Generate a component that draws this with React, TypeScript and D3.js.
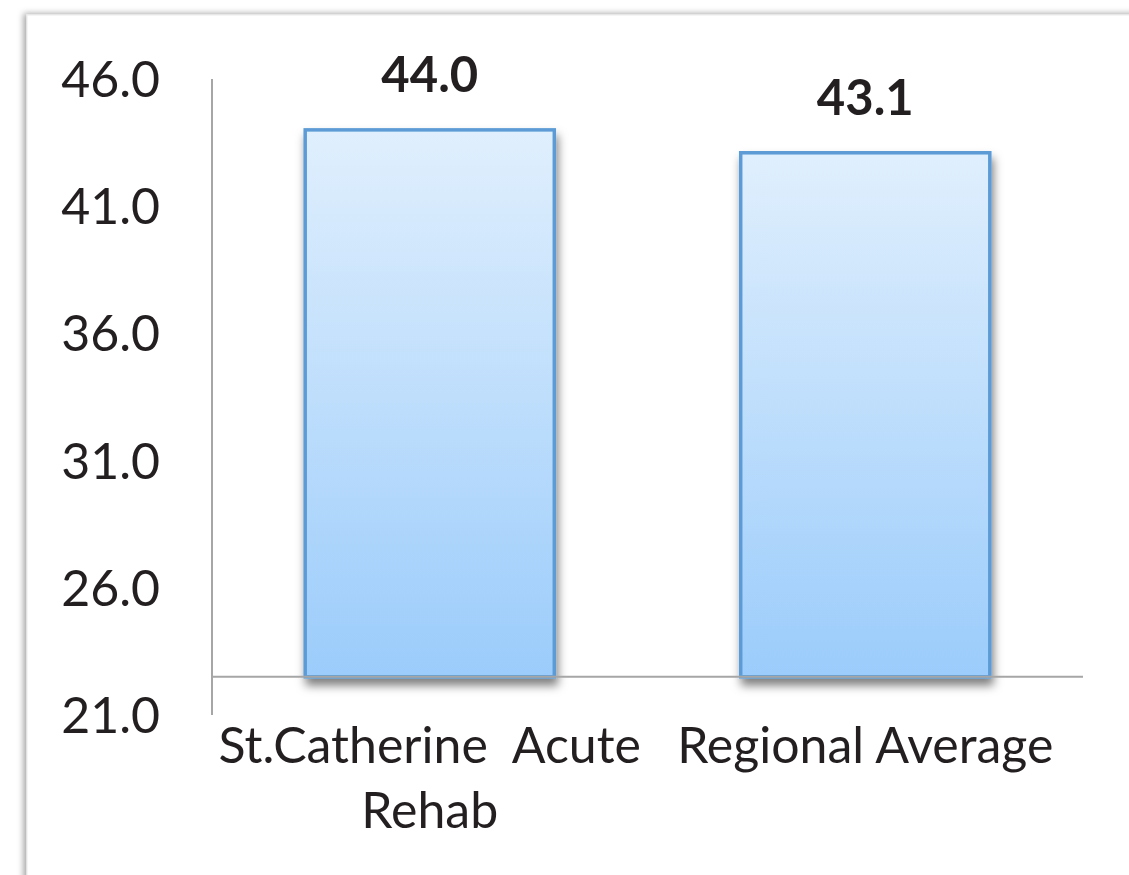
import * as d3 from "d3";

const categories = ["St.Catherine  Acute Rehab", "Regional Average"];
const categoryLines = [["St.Catherine  Acute", "Rehab"], ["Regional Average"]];
const values = [44.0, 43.1];
const tickValues = [21, 26, 31, 36, 41, 46];
const AXIS_CROSS = 22.5; // horizontal axis crosses the value axis here

const WIDTH = 1129;
const HEIGHT = 875;
const PLOT = { left: 212, right: 1083, top: 79, bottom: 715 };
const FONT = "Lato, 'Open Sans', sans-serif";
const TEXT = "#231f20";

export default function App() {
  const yScale = d3.scaleLinear().domain([21, 46]).range([PLOT.bottom, PLOT.top]);
  const xScale = d3
    .scaleBand<string>()
    .domain(categories)
    .range([PLOT.left, PLOT.right])
    .paddingInner(0.428)
    .paddingOuter(0.214);

  const base = yScale(AXIS_CROSS);

  return (
    <svg
      width={WIDTH}
      height={HEIGHT}
      style={{ position: "fixed", left: 0, top: 0, background: "#fff" }}
    >
      <defs>
        <linearGradient id="barFill" x1="0" y1="0" x2="0" y2="1">
          <stop offset="0%" stopColor="#e0effd" />
          <stop offset="100%" stopColor="#9bccfb" />
        </linearGradient>
        <filter id="barShadow" x="-10%" y="-10%" width="130%" height="130%">
          <feDropShadow dx="2" dy="7" stdDeviation="5" floodColor="#000" floodOpacity="0.5" />
        </filter>
        <filter id="frameShadow" x="-5%" y="-5%" width="110%" height="110%">
          <feDropShadow dx="-3" dy="-1" stdDeviation="3" floodColor="#000" floodOpacity="0.35" />
        </filter>
      </defs>

      {/* chart frame */}
      <rect
        x={27}
        y={15}
        width={1200}
        height={1000}
        fill="#fff"
        stroke="#ececec"
        strokeWidth={1}
        filter="url(#frameShadow)"
      />

      {/* bars */}
      {categories.map((c, i) => (
        <rect
          key={c}
          x={xScale(c)!}
          y={yScale(values[i])}
          width={xScale.bandwidth()}
          height={base - yScale(values[i])}
          fill="url(#barFill)"
          stroke="#5b9bd5"
          strokeWidth={3.5}
          filter="url(#barShadow)"
        />
      ))}

      {/* axes */}
      <line x1={PLOT.left} x2={PLOT.left} y1={PLOT.top} y2={PLOT.bottom} stroke="#a6a6a6" strokeWidth={2} />
      <line x1={PLOT.left} x2={PLOT.right} y1={base} y2={base} stroke="#a6a6a6" strokeWidth={2} />

      {/* y tick labels */}
      {tickValues.map((t) => (
        <text
          key={t}
          x={160}
          y={yScale(t)}
          dy="0.36em"
          textAnchor="end"
          fontFamily={FONT}
          fontSize={50}
          fill={TEXT}
        >
          {d3.format(".1f")(t)}
        </text>
      ))}

      {/* value labels */}
      {categories.map((c, i) => (
        <text
          key={c}
          x={xScale(c)! + xScale.bandwidth() / 2}
          y={yScale(values[i]) - 38}
          textAnchor="middle"
          fontFamily={FONT}
          fontWeight="bold"
          fontSize={49}
          fill={TEXT}
        >
          {d3.format(".1f")(values[i])}
        </text>
      ))}

      {/* category labels */}
      {categories.map((c, i) => (
        <text
          key={c}
          x={xScale(c)! + xScale.bandwidth() / 2}
          y={763}
          textAnchor="middle"
          fontFamily={FONT}
          fontSize={50}
          fill={TEXT}
          style={{ whiteSpace: "pre" }}
        >
          {categoryLines[i].map((line, j) => (
            <tspan key={j} x={xScale(c)! + xScale.bandwidth() / 2} dy={j === 0 ? 0 : 65}>
              {line}
            </tspan>
          ))}
        </text>
      ))}
    </svg>
  );
}
